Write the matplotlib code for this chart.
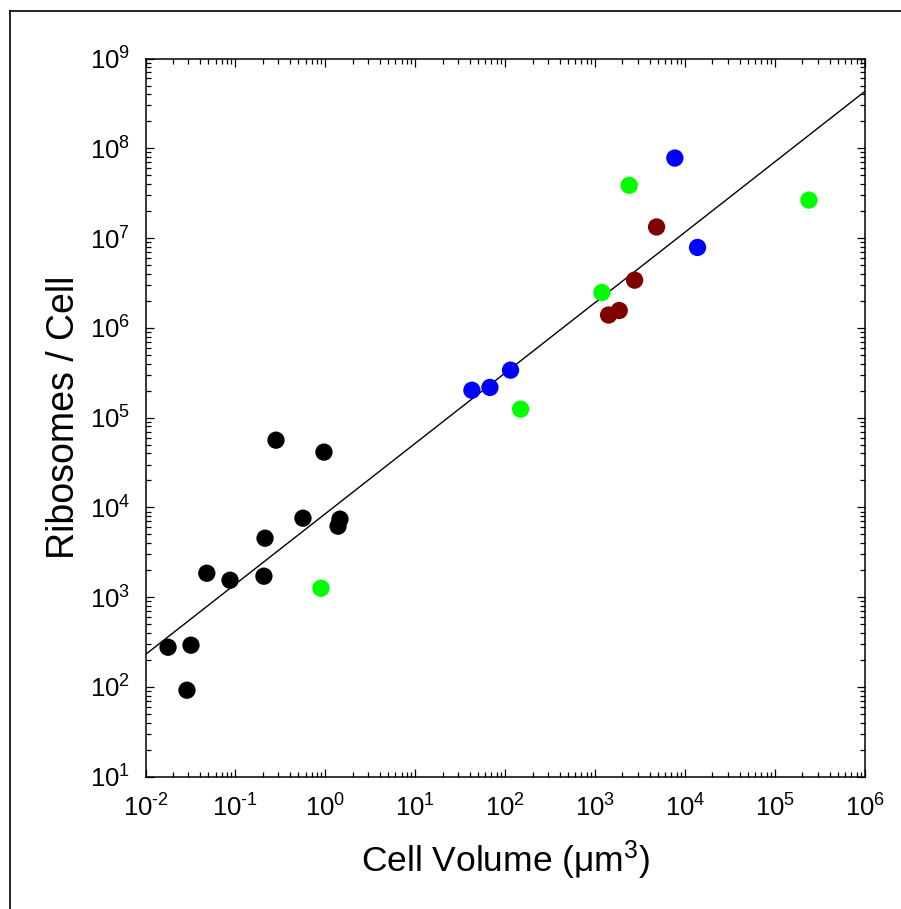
import matplotlib
matplotlib.use("Agg")
import matplotlib.pyplot as plt
from matplotlib.lines import Line2D
from matplotlib.ticker import LogLocator, FixedLocator, NullFormatter
import numpy as np

plt.rcParams['font.family'] = ['Liberation Sans', 'DejaVu Sans']
plt.rcParams['mathtext.fontset'] = 'custom'
plt.rcParams['mathtext.rm'] = 'Liberation Sans'
plt.rcParams['mathtext.it'] = 'Liberation Sans:italic'
plt.rcParams['mathtext.bf'] = 'Liberation Sans:bold'

# --- data ---
black_vol = [0.0178, 0.032, 0.0289, 0.048, 0.087, 0.213, 0.207, 0.282, 0.562, 0.962, 1.45, 1.38]
black_rib = [277, 292, 92, 1850, 1545, 4540, 1713, 56100, 7590, 41300, 7400, 6180]

green_vol = [0.891, 147.5, 1181, 2377, 2.36e5]
green_rib = [1259, 1.244e5, 2.48e6, 3.87e7, 2.65e7]

blue_vol = [42.4, 67.3, 114, 7640, 13650]
blue_rib = [2.02e5, 2.17e5, 3.38e5, 7.79e7, 7.87e6]

red_vol = [4786, 2729, 1840, 1402]
red_rib = [1.33e7, 3.4e6, 1.56e6, 1.39e6]

fit_coef = 8530.0
fit_exp = 0.7845
fit_x = [1e-2, 1e6]

x_ticks = [1e-2, 1e-1, 1e0, 1e1, 1e2, 1e3, 1e4, 1e5, 1e6]
x_labels = ['10$^{\\text{-}2}$', '10$^{\\text{-}1}$', '10$^{0}$', '10$^{1}$', '10$^{2}$', '10$^{3}$', '10$^{4}$', '10$^{5}$', '10$^{6}$']
y_ticks = [1e1, 1e2, 1e3, 1e4, 1e5, 1e6, 1e7, 1e8, 1e9]
y_labels = ['10$^{1}$', '10$^{2}$', '10$^{3}$', '10$^{4}$', '10$^{5}$', '10$^{6}$', '10$^{7}$', '10$^{8}$', '10$^{9}$']

fig = plt.figure(figsize=(9.01, 9.09), dpi=100)
ax = fig.add_axes([0.1615, 0.1455, 0.7989, 0.7901])
ax.set_xscale('log')
ax.set_yscale('log')
ax.set_xlim(1e-2, 1e6)
ax.set_ylim(1e1, 1e9)

fx = np.array(fit_x)
ax.plot(fx, fit_coef * fx ** fit_exp, color='black', lw=1.0, zorder=2)

ms = 155
ax.scatter(black_vol, black_rib, s=ms, c='black', edgecolors='none', zorder=3)
ax.scatter(green_vol, green_rib, s=ms, c='#00ff00', edgecolors='none', zorder=3)
ax.scatter(blue_vol, blue_rib, s=ms, c='#0000ff', edgecolors='none', zorder=3)
ax.scatter(red_vol, red_rib, s=ms, c='#800000', edgecolors='none', zorder=3)

ax.xaxis.set_major_locator(FixedLocator(x_ticks))
ax.yaxis.set_major_locator(FixedLocator(y_ticks))
ax.set_xticklabels(x_labels, fontsize=18.5)
ax.set_yticklabels(y_labels, fontsize=18.5)
ax.xaxis.set_minor_locator(LogLocator(base=10, subs=np.arange(2, 10), numticks=20))
ax.yaxis.set_minor_locator(LogLocator(base=10, subs=np.arange(2, 10), numticks=20))
ax.xaxis.set_minor_formatter(NullFormatter())
ax.yaxis.set_minor_formatter(NullFormatter())

ax.tick_params(which='both', direction='in', top=True, right=True, width=0.9, color='black')
ax.tick_params(which='major', length=6)
ax.tick_params(axis='x', which='major', pad=13)
ax.tick_params(axis='y', which='major', pad=11)
ax.tick_params(which='minor', length=3.5)
for sp in ax.spines.values():
    sp.set_linewidth(1.1)

ax.set_xlabel('Cell Volume (\u03bcm$^{3}$)', fontsize=25.5, labelpad=12)
ax.set_ylabel('Ribosomes / Cell', fontsize=27, labelpad=5.5)

# outer frame (left and top edges visible)
fig.add_artist(Line2D([10.0 / 901, 10.0 / 901], [0, 1 - 11.3 / 909], transform=fig.transFigure, color='black', lw=1.2))
fig.add_artist(Line2D([10.0 / 901, 1.0], [1 - 11.3 / 909, 1 - 11.3 / 909], transform=fig.transFigure, color='black', lw=1.2))

fig.savefig('out.png', dpi=100)
